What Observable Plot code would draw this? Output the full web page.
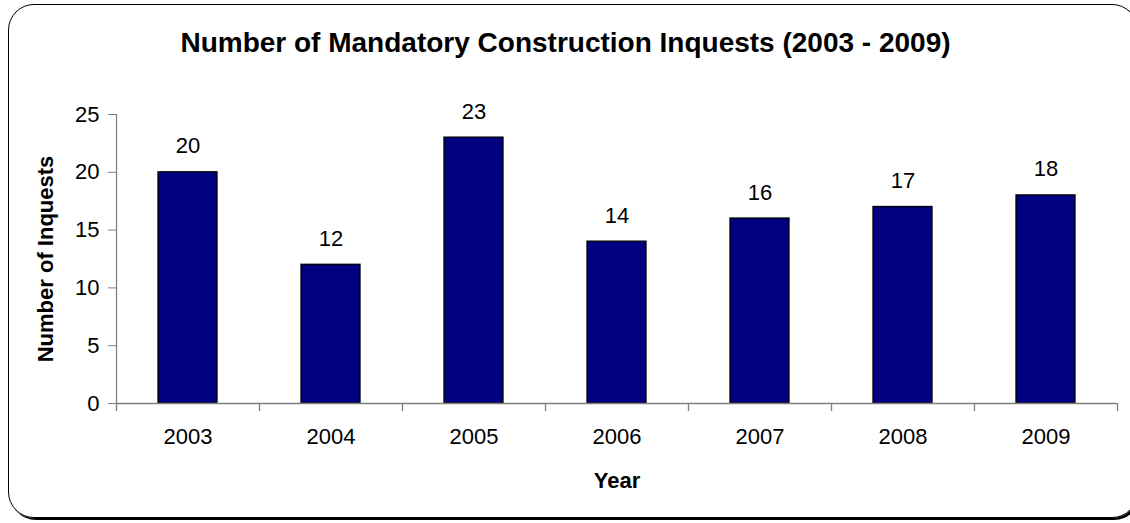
<!DOCTYPE html>
<html>
<head>
<meta charset="utf-8">
<script src="https://cdn.jsdelivr.net/npm/d3@7"></script>
<script src="https://cdn.jsdelivr.net/npm/@observablehq/plot@0.6"></script>
<style>
  html, body { margin: 0; padding: 0; background: #fff; overflow: hidden; }
  #wrap { position: relative; width: 1130px; height: 523px; overflow: hidden; font-family: "Liberation Sans", Arial, sans-serif; }
  #box { position: absolute; left: 8px; top: 4px; width: 1130px; height: 514px; border: 1.5px solid #000; border-radius: 26px; box-shadow: 2px 2px 0 #000; box-sizing: border-box; }
  #chart { position: absolute; left: 0; top: 0; width: 1130px; height: 523px; }
  #chart svg { display: block; }
</style>
</head>
<body>
<div id="wrap">
  <div id="box"></div>
  <div id="chart"></div>
</div>
<script>
const years = ["2003", "2004", "2005", "2006", "2007", "2008", "2009"];
const inquests = [20, 12, 23, 14, 16, 17, 18];
const yTicks = [0, 5, 10, 15, 20, 25];
const chartTitle = "Number of Mandatory Construction Inquests (2003 - 2009)";
const xTitle = "Year";
const yTitle = "Number of Inquests";

const data = years.map((y, i) => ({year: y, value: inquests[i]}));

const W = 1130, H = 523, ML = 116, MR = 13, MT = 114, MB = 120;
const bw = (W - ML - MR) / years.length;
const pad = 0.587;
const axisColor = "#808080";

const plot = Plot.plot({
  width: W,
  height: H,
  marginLeft: ML,
  marginRight: MR,
  marginTop: MT,
  marginBottom: MB,
  style: {fontFamily: '"Liberation Sans", Arial, sans-serif', fontSize: "22px", background: "transparent", color: "#000", overflow: "visible"},
  x: {domain: years, paddingInner: pad, paddingOuter: pad / 2, align: 0.5},
  y: {domain: [0, 25]},
  marks: [
    Plot.barY(data, {x: "year", y: "value", fill: "#000080", stroke: "#000", strokeWidth: 1.3}),
    Plot.text(data, {x: "year", y: "value", text: d => String(d.value), lineAnchor: "bottom", dy: -19, fontSize: 22, fill: "#000"}),
    Plot.axisY({ticks: yTicks, tickSize: 8, tickPadding: 9, stroke: axisColor, fill: "#000", fontSize: 22, label: null}),
    Plot.ruleX([years[0]], {x: d => d, dx: -bw / 2, y1: 0, y2: 25, stroke: axisColor, strokeWidth: 1.3}),
    Plot.axisX({tickSize: 0, tickPadding: 25, fontSize: 22, fill: "#000", label: null}),
    Plot.ruleY([0], {stroke: axisColor, strokeWidth: 1.3}),
    Plot.ruleX(years, {x: d => d, y1: 0, y2: 0, dx: -bw / 2, insetBottom: -8, stroke: axisColor, strokeWidth: 1.3}),
    Plot.ruleX([years[years.length - 1]], {x: d => d, y1: 0, y2: 0, dx: bw / 2, insetBottom: -8, stroke: axisColor, strokeWidth: 1.3}),
    Plot.text([xTitle], {frameAnchor: "bottom", dy: 84, fontWeight: "bold", fontSize: 22, fill: "#000", lineAnchor: "bottom"}),
    Plot.text([yTitle], {frameAnchor: "left", dx: -71, rotate: -90, textAnchor: "middle", fontWeight: "bold", fontSize: 22, fill: "#000"}),
    Plot.text([chartTitle], {frameAnchor: "top-left", dx: 565 - ML, dy: -63, textAnchor: "middle", lineAnchor: "bottom", fontWeight: "bold", fontSize: 28, fill: "#000"})
  ]
});
document.getElementById("chart").appendChild(plot);
</script>
</body>
</html>
